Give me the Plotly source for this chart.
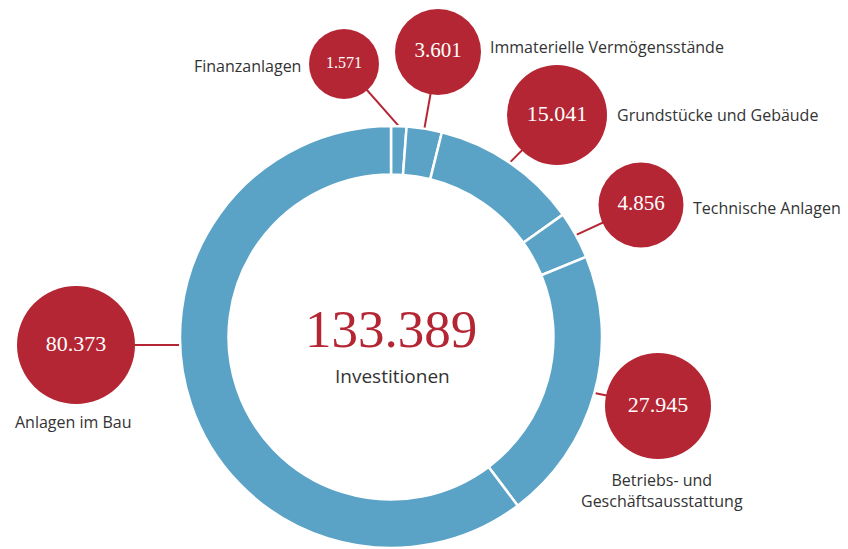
import math
import plotly.graph_objects as go

# ---- data ----
categories = ["Finanzanlagen", "Immaterielle Vermögensstände", "Grundstücke und Gebäude",
              "Technische Anlagen", "Betriebs- und Geschäftsausstattung", "Anlagen im Bau"]
values = [1571, 3601, 15041, 4856, 27945, 80373]
value_labels = ["1.571", "3.601", "15.041", "4.856", "27.945", "80.373"]
label_texts = ["Finanzanlagen", "Immaterielle Vermögensstände", "Grundstücke und Gebäude",
               "Technische Anlagen", "Betriebs- und<br>Geschäftsausstattung", "Anlagen im Bau"]
total_label = "133.389"
center_caption = "Investitionen"

# ---- layout (pixel coordinates, y downward) ----
W, H = 848, 549
CX, CY, R_OUT = 391, 337, 211
bubble_x = [344, 438, 557, 641, 658, 76]
bubble_y = [64, 52, 115, 205, 406, 345]
bubble_r = [35, 43, 50, 42.5, 53, 59]
bubble_font = [16, 21, 22, 21, 22, 22]
anchor_override = {5: 267.8}  # angle (deg, clockwise from top) for leader line anchor
label_x = [303, 488, 615, 691, 662, 73]
label_y = [66, 47, 115, 208, 490, 422]
label_anchor = ["right", "left", "left", "left", "center", "center"]

BLUE = "#5AA3C7"
RED = "#B42633"
GREY = "#333333"

fig = go.Figure()

fig.add_trace(go.Pie(
    labels=categories, values=values, sort=False, direction="clockwise", rotation=0,
    hole=0.77, textinfo="none", hoverinfo="label+value",
    marker=dict(colors=[BLUE] * len(values), line=dict(color="white", width=2.5)),
    domain=dict(x=[(CX - R_OUT) / W, (CX + R_OUT) / W],
                y=[(H - CY - R_OUT) / H, (H - CY + R_OUT) / H]),
    showlegend=False,
))

# leader lines from slice mid-angles on the outer ring to the bubbles
tot = sum(values)
cum = 0
for i, v in enumerate(values):
    mid = (cum + v / 2) / tot * 360
    cum += v
    ang = anchor_override.get(i, mid)
    ax = CX + R_OUT * math.sin(math.radians(ang))
    ay = CY - R_OUT * math.cos(math.radians(ang))
    fig.add_trace(go.Scatter(x=[ax, bubble_x[i]], y=[ay, bubble_y[i]], mode="lines",
                             line=dict(color=RED, width=2), hoverinfo="skip", showlegend=False))

# bubbles with values
fig.add_trace(go.Scatter(
    x=bubble_x, y=bubble_y, mode="markers+text",
    marker=dict(size=[2 * r for r in bubble_r], color=RED, line=dict(width=0), opacity=1),
    text=value_labels, textposition="middle center",
    textfont=dict(family="Liberation Serif, DejaVu Serif, serif", size=bubble_font, color="white"),
    hovertext=categories, hoverinfo="text", showlegend=False,
))

annotations = []
for i, t in enumerate(label_texts):
    annotations.append(dict(x=label_x[i], y=label_y[i], xref="x", yref="y", text=t, showarrow=False,
                            xanchor=label_anchor[i], yanchor="middle", align="center",
                            font=dict(family="Open Sans, Noto Sans, sans-serif", size=16, color=GREY)))
annotations.append(dict(x=CX, y=329, xref="x", yref="y", text=total_label, showarrow=False,
                        xanchor="center", yanchor="middle",
                        font=dict(family="Liberation Serif, DejaVu Serif, serif", size=53, color=RED)))
annotations.append(dict(x=CX + 1, y=376, xref="x", yref="y", text=center_caption, showarrow=False,
                        xanchor="center", yanchor="middle",
                        font=dict(family="Open Sans, Noto Sans, sans-serif", size=19, color=GREY)))

fig.update_layout(
    width=W, height=H, margin=dict(l=0, r=0, t=0, b=0),
    paper_bgcolor="white", plot_bgcolor="rgba(0,0,0,0)",
    xaxis=dict(range=[0, W], visible=False, fixedrange=True),
    yaxis=dict(range=[H, 0], visible=False, fixedrange=True),
    annotations=annotations,
)

fig.write_html("out.html", config={"displayModeBar": False},
               post_script="document.body.style.margin='0';")
